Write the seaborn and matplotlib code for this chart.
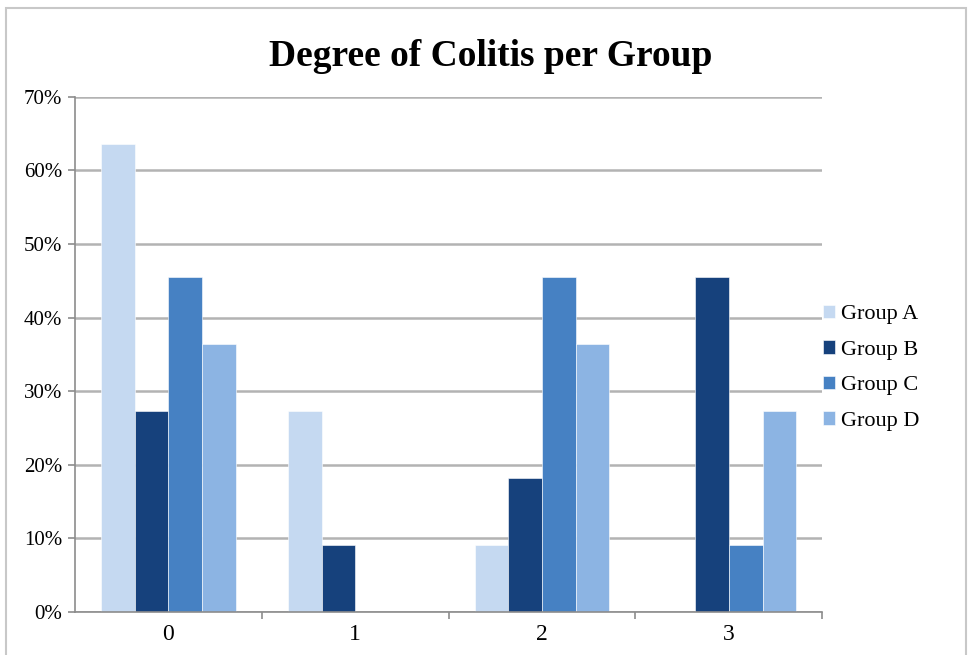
import numpy as np
import pandas as pd
import matplotlib.pyplot as plt
import seaborn as sns
from matplotlib.patches import Rectangle
from matplotlib.ticker import FixedLocator, PercentFormatter

# Degree of colitis score and share of animals per group (n = 11)
degrees = ['0', '1', '2', '3']
groups = ['Group A', 'Group B', 'Group C', 'Group D']
group_a = [63.6, 27.3, 9.1, 0.0]
group_b = [27.3, 9.1, 18.2, 45.5]
group_c = [45.5, 0.0, 45.5, 9.1]
group_d = [36.4, 0.0, 36.4, 27.3]

colors = ['#c5d9f1', '#16417c', '#4681c3', '#8cb4e3']

df = pd.DataFrame({
    'degree': degrees * 4,
    'group': np.repeat(groups, 4),
    'pct': group_a + group_b + group_c + group_d,
})

sns.set_style('white')
plt.rcParams['font.family'] = ['Liberation Serif', 'DejaVu Serif']
plt.rcParams['text.color'] = 'black'
plt.rcParams['xtick.labelcolor'] = 'black'
plt.rcParams['ytick.labelcolor'] = 'black'

fig = plt.figure(figsize=(9.72, 6.55), dpi=100)
ax = fig.add_axes([0.077, 0.066, 0.769, 0.786])

sns.barplot(data=df, x='degree', y='pct', hue='group', order=degrees,
            hue_order=groups, palette=colors, width=0.72, saturation=1,
            edgecolor='white', linewidth=0.4, ax=ax)

ax.set_ylim(0, 70)
ax.set_xlim(-0.5, 3.5)
ax.set_yticks(np.arange(0, 71, 10))
ax.yaxis.set_major_formatter(PercentFormatter(decimals=0))
ax.yaxis.grid(True, color='#b3b3b3', linewidth=1.8)
ax.set_axisbelow(True)

# tick marks sit between the categories, labels in the middle
ax.xaxis.set_minor_locator(FixedLocator([0.5, 1.5, 2.5, 3.5]))
ax.tick_params(axis='x', which='major', length=0, labelsize=17, pad=9)
ax.tick_params(axis='x', which='minor', length=5, width=1.2, color='#8c8c8c', direction='out')
ax.tick_params(axis='y', length=5, width=1.2, color='#8c8c8c', direction='out', labelsize=15, pad=4)
ax.xaxis.set_tick_params(which='minor', bottom=True)
ax.yaxis.set_tick_params(left=True)

for side in ['top', 'right']:
    ax.spines[side].set_visible(False)
for side in ['left', 'bottom']:
    ax.spines[side].set_color('#8c8c8c')
    ax.spines[side].set_linewidth(1.2)

ax.set_xlabel('')
ax.set_ylabel('')

fig.suptitle('Degree of Colitis per Group', x=0.505, y=0.94, fontsize=27,
             fontweight='bold', color='black')

ax.legend(loc='center left', bbox_to_anchor=(0.977, 0.474), frameon=False,
          fontsize=16, handlelength=0.55, handleheight=0.55, handletextpad=0.25,
          labelspacing=0.72, borderaxespad=0.4)

# thin outer frame of the chart area
fig.patches.append(Rectangle((6 / 972, -0.02), 960 / 972, 1 - 8 / 655 + 0.02,
                             transform=fig.transFigure, fill=False,
                             edgecolor='#c8c8c8', linewidth=1.5))

fig.savefig('out.png', dpi=100)
